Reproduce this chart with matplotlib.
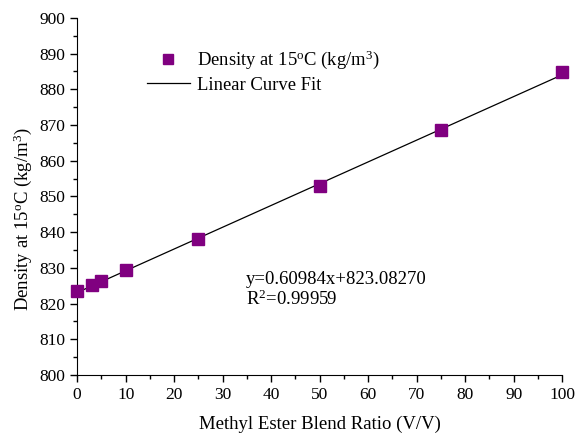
import numpy as np
import matplotlib
matplotlib.use("Agg")
import matplotlib.pyplot as plt
from matplotlib.ticker import MultipleLocator

plt.rcParams['font.family'] = 'Liberation Serif'
plt.rcParams['mathtext.fontset'] = 'custom'
plt.rcParams['mathtext.rm'] = 'Liberation Serif'
plt.rcParams['mathtext.it'] = 'Liberation Serif:italic'

# Blend ratio (V/V) and measured density at 15 C
blend = [0, 3, 5, 10, 25, 50, 75, 100]
density = [823.4, 825.1, 826.3, 829.3, 838.0, 853.0, 868.5, 884.8]

# Linear fit coefficients
slope = 0.60984
intercept = 823.08270
r2 = 0.99959

fig = plt.figure(figsize=(5.76, 4.37), dpi=100)
ax = fig.add_axes([0.134, 0.142, 0.842, 0.817])

xfit = np.array([0, 100])
line, = ax.plot(xfit, slope * xfit + intercept, 'k-', lw=0.9, zorder=2)
pts, = ax.plot(blend, density, 's', color='#800080', ms=8, ls='none',
               zorder=3, clip_on=False)

ax.set_xlim(0, 100)
ax.set_ylim(800, 900)
ax.xaxis.set_major_locator(MultipleLocator(10))
ax.xaxis.set_minor_locator(MultipleLocator(5))
ax.yaxis.set_major_locator(MultipleLocator(10))
ax.yaxis.set_minor_locator(MultipleLocator(5))
ax.tick_params(which='both', direction='out', labelsize=12.5, width=1)
ax.tick_params(which='major', length=5)
ax.tick_params(which='minor', length=3)
for s in ['top', 'right']:
    ax.spines[s].set_visible(False)

ax.set_xlabel('Methyl Ester Blend Ratio (V/V)', fontsize=13.5, labelpad=9)
ax.set_ylabel(r'Density at 15$^{\mathrm{o}}$C (kg/m$^{3}$)', fontsize=13.5)
ax.yaxis.set_label_coords(-0.089, 0.437)

ax.legend([pts, line],
          [r'Density at 15$^{\mathrm{o}}$C (kg/m$^{3}$)', 'Linear Curve Fit'],
          loc='upper left', bbox_to_anchor=(0.128, 0.935), frameon=False,
          fontsize=13.4, handlelength=2.3, markerscale=0.85, borderaxespad=0,
          handletextpad=0.4, labelspacing=0.3)

ax.text(34.8, 825.6, 'y=%.5fx+%.5f' % (slope, intercept), fontsize=13.5)
ax.text(34.8, 819.6, r'R$^{2}$=%.5f' % r2, fontsize=13.5)

fig.savefig('out.png', dpi=100)
